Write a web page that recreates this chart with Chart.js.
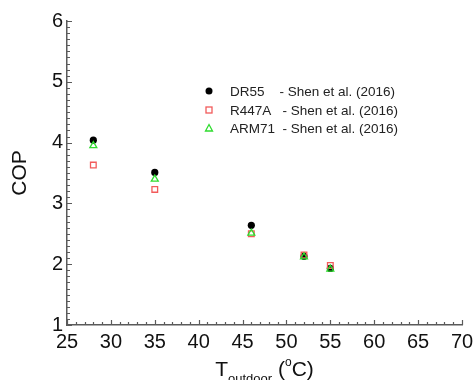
<!DOCTYPE html>
<html>
<head>
<meta charset="utf-8">
<script src="https://cdn.jsdelivr.net/npm/chart.js@4"></script>
<style>
  html, body { margin: 0; padding: 0; background: #fff; }
  #wrap { width: 476px; height: 380px; }
</style>
</head>
<body>
<div id="wrap"><canvas id="copChart" width="476" height="380"></canvas></div>
<script>
// outdoor temperatures (°C)
const temps = [28, 35, 46, 52, 55];
// COP
const dr55 = [4.04, 3.51, 2.64, 2.13, 1.93];
const r447a = [3.63, 3.23, 2.50, 2.15, 1.98];
const arm71 = [3.95, 3.40, 2.51, 2.12, 1.92];
const seriesLabels = ['DR55    - Shen et al. (2016)', 'R447A   - Shen et al. (2016)', 'ARM71  - Shen et al. (2016)'];
const xTicks = [25, 30, 35, 40, 45, 50, 55, 60, 65, 70];
const yTicks = [1, 2, 3, 4, 5, 6];

const FONT = '"Liberation Sans", Arial, sans-serif';
const AXIS = '#5a5a5a';

function toPoints(ys) {
  return temps.map((t, i) => ({ x: t, y: ys[i] }));
}

// ticks pointing into the plot, majors plus minors
const innerTicks = {
  id: 'innerTicks',
  afterDraw(chart) {
    const ctx = chart.ctx;
    const x = chart.scales.x, y = chart.scales.y;
    const a = chart.chartArea;
    ctx.save();
    ctx.strokeStyle = AXIS;
    ctx.lineWidth = 1.2;
    ctx.beginPath();
    for (let v = 25; v <= 70; v += 1) {
      const px = Math.round(x.getPixelForValue(v)) + 0.5;
      const len = v % 5 === 0 ? 5 : 3;
      ctx.moveTo(px, a.bottom);
      ctx.lineTo(px, a.bottom - len);
    }
    for (let i = 10; i <= 60; i += 1) {
      const py = Math.round(y.getPixelForValue(i / 10)) + 0.5;
      const len = i % 10 === 0 ? 5 : 3;
      ctx.moveTo(a.left, py);
      ctx.lineTo(a.left + len, py);
    }
    ctx.stroke();
    ctx.restore();
  }
};

function drawMarker(ctx, style, cx, cy) {
  ctx.save();
  if (style === 'circle') {
    ctx.fillStyle = '#000';
    ctx.beginPath();
    ctx.arc(cx, cy, 3.5, 0, Math.PI * 2);
    ctx.fill();
  } else if (style === 'rect') {
    ctx.strokeStyle = '#f25b5b';
    ctx.lineWidth = 1.3;
    ctx.strokeRect(cx - 3, cy - 3, 6, 6);
  } else {
    ctx.strokeStyle = '#2fdc2f';
    ctx.lineWidth = 1.3;
    ctx.beginPath();
    ctx.moveTo(cx, cy - 3.5);
    ctx.lineTo(cx + 3.5, cy + 3);
    ctx.lineTo(cx - 3.5, cy + 3);
    ctx.closePath();
    ctx.stroke();
  }
  ctx.restore();
}

const legendAndTitle = {
  id: 'legendAndTitle',
  afterDraw(chart) {
    const ctx = chart.ctx;
    const styles = ['circle', 'rect', 'triangle'];
    const rows = [91, 110, 128];
    ctx.save();
    ctx.textBaseline = 'middle';
    ctx.font = '13.5px ' + FONT;
    ctx.fillStyle = '#222';
    seriesLabels.forEach((lab, i) => {
      drawMarker(ctx, styles[i], 209, rows[i]);
      ctx.fillText(lab, 230, rows[i] + 1);
    });

    // x axis title: T_outdoor (°C)
    const a = chart.chartArea;
    const cx = (a.left + a.right) / 2;
    ctx.textBaseline = 'alphabetic';
    const parts = [
      { t: 'T', f: '21px ', dy: 0 },
      { t: 'outdoor', f: '13px ', dy: 7 },
      { t: ' (', f: '21px ', dy: 0 },
      { t: 'o', f: '12px ', dy: -10 },
      { t: 'C)', f: '21px ', dy: 0 }
    ];
    let total = 0;
    parts.forEach(p => { ctx.font = p.f + FONT; p.w = ctx.measureText(p.t).width; total += p.w; });
    let px = cx - total / 2;
    const base = 376;
    parts.forEach(p => {
      ctx.font = p.f + FONT;
      ctx.fillStyle = '#111';
      ctx.fillText(p.t, px, base + p.dy);
      px += p.w;
    });
    ctx.restore();
  }
};

const ctx = document.getElementById('copChart').getContext('2d');
new Chart(ctx, {
  type: 'scatter',
  data: {
    datasets: [
      {
        label: seriesLabels[0],
        data: toPoints(dr55),
        pointStyle: 'circle',
        pointRadius: 3.6,
        backgroundColor: '#000',
        borderColor: '#000',
        borderWidth: 0,
        order: 3
      },
      {
        label: seriesLabels[1],
        data: toPoints(r447a),
        pointStyle: 'rect',
        pointRadius: 4,
        backgroundColor: 'rgba(0,0,0,0)',
        borderColor: '#f25b5b',
        borderWidth: 1.3,
        order: 2
      },
      {
        label: seriesLabels[2],
        data: toPoints(arm71),
        pointStyle: 'triangle',
        pointRadius: 4,
        backgroundColor: 'rgba(0,0,0,0)',
        borderColor: '#2fdc2f',
        borderWidth: 1.3,
        order: 1
      }
    ]
  },
  options: {
    responsive: false,
    animation: false,
    layout: { padding: { left: 0, right: 14, top: 21, bottom: 0 } },
    plugins: {
      legend: { display: false },
      tooltip: { enabled: false }
    },
    scales: {
      x: {
        type: 'linear',
        min: 25,
        max: 70,
        afterBuildTicks: s => { s.ticks = xTicks.map(v => ({ value: v })); },
        ticks: {
          padding: 5,
          color: '#111',
          font: { family: FONT, size: 20 },
          maxRotation: 0,
          autoSkip: false
        },
        grid: { display: false, drawTicks: false },
        border: { display: true, color: AXIS, width: 1.5 },
        afterFit: s => {
          s.height = 55;
          s.paddingLeft = 0; s.paddingRight = 0;
        }
      },
      y: {
        type: 'linear',
        min: 1,
        max: 6,
        afterBuildTicks: s => { s.ticks = yTicks.map(v => ({ value: v })); },
        ticks: {
          padding: 4,
          color: '#111',
          font: { family: FONT, size: 20 }
        },
        grid: { display: false, drawTicks: false },
        border: { display: true, color: AXIS, width: 1.5 },
        title: {
          display: true,
          text: 'COP',
          color: '#111',
          font: { family: FONT, size: 21 },
          padding: { top: 8, bottom: 0 }
        },
        afterFit: s => {
          s.width = 67;
          s.paddingTop = 0; s.paddingBottom = 0;
        }
      }
    }
  },
  plugins: [innerTicks, legendAndTitle]
});
</script>
</body>
</html>
